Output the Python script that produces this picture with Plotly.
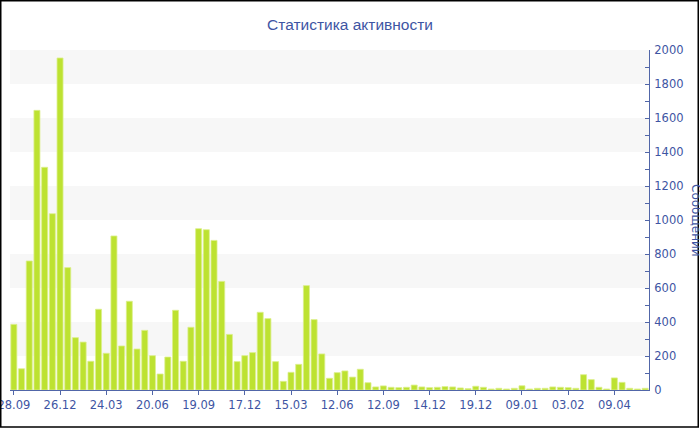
import plotly.graph_objects as go

values = [386, 125, 759, 1645, 1310, 1037, 1953, 720, 308, 282,
          169, 475, 216, 906, 259, 522, 241, 351, 202, 94,
          194, 469, 169, 369, 949, 943, 880, 639, 327, 167,
          202, 220, 457, 420, 167, 51, 104, 151, 614, 414,
          212, 69, 102, 112, 76, 122, 43, 18, 24, 16,
          14, 16, 29, 18, 14, 16, 20, 18, 12, 8,
          22, 16, 6, 10, 6, 10, 25, 6, 10, 10,
          18, 16, 14, 10, 90, 61, 16, 6, 71, 45,
          10, 6, 10]
tick_labels = ["28.09", "26.12", "24.03", "20.06", "19.09", "17.12", "15.03",
               "12.06", "12.09", "14.12", "19.12", "09.01", "03.02", "09.04"]
tick_step = 6
title_text = "Статистика активности"
y_title = "Сообщений"

x = list(range(len(values)))
tickvals = [i * tick_step for i in range(len(tick_labels))]

txt = "#3e55a3"
axc = "#5166a8"
W, H = 700, 430
ml, mr, mt, mb = 10, 51, 50, 40
pw, ph = W - ml - mr, H - mt - mb

fig = go.Figure()
fig.add_trace(go.Bar(x=x, y=values, marker=dict(color="#bde231", line=dict(color="#dcef8c", width=0.8)),
                     hoverinfo="y"))

shapes = []
for lo in range(200, 2000, 400):
    shapes.append(dict(type="rect", xref="paper", yref="y", x0=0, x1=1, y0=lo, y1=lo + 200,
                       fillcolor="#f7f7f7", line=dict(width=0), layer="below"))
# outer frame
shapes.append(dict(type="rect", xref="paper", yref="paper",
                   x0=(0.75 - ml) / pw, x1=(698.25 - ml) / pw,
                   y0=(H - mb - 427) / ph, y1=(H - mb - 0.75) / ph,
                   line=dict(color="#000000", width=1.5), fillcolor="rgba(0,0,0,0)", layer="above"))

fig.update_layout(
    width=W, height=H,
    margin=dict(l=ml, r=mr, t=mt, b=mb, autoexpand=False),
    paper_bgcolor="white", plot_bgcolor="white",
    font=dict(family="DejaVu Sans", size=11, color=txt),
    title=dict(text=title_text, x=0.5, xref="container", xanchor="center", yref="container",
               y=1 - 25 / H, yanchor="middle", automargin=False,
               font=dict(family="Liberation Sans", size=15.5, color=txt)),
    bargap=0.22,
    showlegend=False,
    shapes=shapes,
    annotations=[dict(text=y_title, xref="paper", yref="paper", x=(696 - ml) / pw, y=0.5,
                      xanchor="center", yanchor="middle", textangle=90, showarrow=False,
                      font=dict(size=12, color=txt))],
    xaxis=dict(range=[-0.5, len(values) - 0.5], tickmode="array", tickvals=tickvals, ticktext=tick_labels,
               showgrid=False, zeroline=False, showline=True, linecolor=axc, linewidth=1,
               ticks="outside", ticklen=4, tickcolor=axc, tickfont=dict(size=11.5, color=txt),
               automargin=False, ticklabeloverflow="allow"),
    yaxis=dict(side="right", range=[0, 2000], dtick=200, showgrid=False, zeroline=False,
               showline=True, linecolor=axc, linewidth=1, ticks="inside", ticklen=4, tickcolor=axc,
               minor=dict(dtick=100, ticks="inside", ticklen=4, tickcolor=axc, showgrid=False),
               tickfont=dict(size=11.5, color=txt), ticklabelstandoff=2,
               automargin=False, ticklabeloverflow="allow"),
)

fig.write_html("out.html", config={"displayModeBar": False},
               post_script="document.body.style.margin='0px';")
